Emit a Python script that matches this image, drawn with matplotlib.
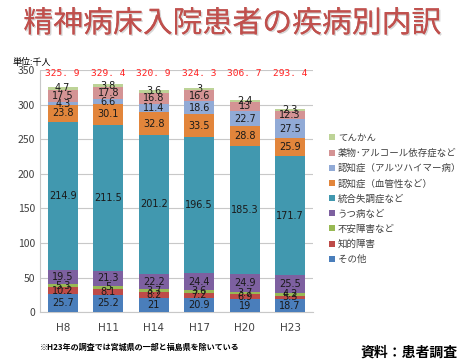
import matplotlib
matplotlib.use("Agg")
import matplotlib.pyplot as plt
import matplotlib.patheffects as pe
import numpy as np

plt.rcParams['font.family'] = ['Noto Sans CJK JP', 'DejaVu Sans']

years = ["H8", "H11", "H14", "H17", "H20", "H23"]
legend_labels = ["その他", "知的障害", "不安障害など", "うつ病など", "統合失調症など",
                 "認知症（血管性など）", "認知症（アルツハイマー病）", "薬物･アルコール依存症など", "てんかん"]
sonota = [25.7, 25.2, 21, 20.9, 19, 18.7]
chiteki = [10.2, 8.1, 8.2, 7.2, 6.9, 5.3]
fuan = [5.3, 5, 3.7, 3.6, 3.7, 4.2]
utsu = [19.5, 21.3, 22.2, 24.4, 24.9, 25.5]
togo = [214.9, 211.5, 201.2, 196.5, 185.3, 171.7]
ninchi_kekkan = [23.8, 30.1, 32.8, 33.5, 28.8, 25.9]
ninchi_alz = [4.3, 6.6, 11.4, 18.6, 22.7, 27.5]
yakubutsu = [17.5, 17.8, 16.8, 16.6, 13, 12.3]
tenkan = [4.7, 3.8, 3.6, 3, 2.4, 2.3]
data = [sonota, chiteki, fuan, utsu, togo, ninchi_kekkan, ninchi_alz, yakubutsu, tenkan]
colors = ["#4a7ebb", "#be4b48", "#98b954", "#7d60a0", "#4198af", "#e2853b",
          "#91aad6", "#d49394", "#bdd397"]

fig = plt.figure(figsize=(4.65, 3.63), dpi=100)
ax = fig.add_axes([0.086, 0.140, 0.587, 0.667])

x = np.arange(len(years))
bottom = np.zeros(len(years))
handles = []
for vals, col, name in zip(data, colors, legend_labels):
    v = np.array(vals, dtype=float)
    b = ax.bar(x, v, bottom=bottom, width=0.66, color=col, label=name, zorder=3)
    handles.append(b)
    for xi, (vi, bi) in enumerate(zip(v, bottom)):
        s = f"{vi:g}"
        ax.text(xi, bi + vi / 2, s, ha='center', va='center', fontsize=7,
                color='#1a1a1a', family=['DejaVu Sans'], zorder=4)
    bottom = bottom + v

totals = bottom
for xi, t in enumerate(totals):
    ax.text(xi, 345, f"{t:.1f}".replace(".", ". "), ha='center', va='center',
            fontsize=6.8, color='#ff2020', family=['DejaVu Sans Mono'], zorder=4)

ax.set_xlim(-0.5, 5.5)
ax.set_ylim(0, 350)
ax.set_yticks(range(0, 351, 50))
ax.set_xticks(x)
ax.set_xticklabels(years, family=['DejaVu Sans'])
ax.tick_params(axis='both', length=0, labelsize=7.5, colors='#404040')
ax.tick_params(axis='x', pad=8)
ax.grid(axis='y', color='#c8c8c8', linewidth=0.8, zorder=0)
for s in ['top', 'right']:
    ax.spines[s].set_visible(False)
for s in ['left', 'bottom']:
    ax.spines[s].set_color('#c8c8c8')
    ax.spines[s].set_linewidth(0.8)

leg = fig.legend(handles[::-1], legend_labels[::-1], loc='upper left',
                 bbox_to_anchor=(0.69, 0.655), frameon=False, fontsize=6.8,
                 handlelength=0.6, handleheight=0.6, handletextpad=0.3,
                 labelspacing=0.62, labelcolor='#404040')

fig.text(0.5, 0.935, "精神病床入院患者の疾病別内訳", ha='center', va='center',
         fontsize=21.5, color='#c0504d',
         path_effects=[pe.withSimplePatchShadow(offset=(1, -1), shadow_rgbFace='#bbbbbb', alpha=0.6), pe.Normal()])
fig.text(0.026, 0.829, "単位:千人", ha='left', va='center', fontsize=6.5, color='#000000')
fig.text(0.085, 0.043, "※H23年の調査では宮城県の一部と福島県を除いている", ha='left', va='center',
         fontsize=5.8, color='#000000', fontweight='bold')
fig.text(0.775, 0.03, "資料：患者調査", ha='left', va='center', fontsize=10,
         color='#000000', fontweight='bold')

fig.savefig("out.png", dpi=100)
